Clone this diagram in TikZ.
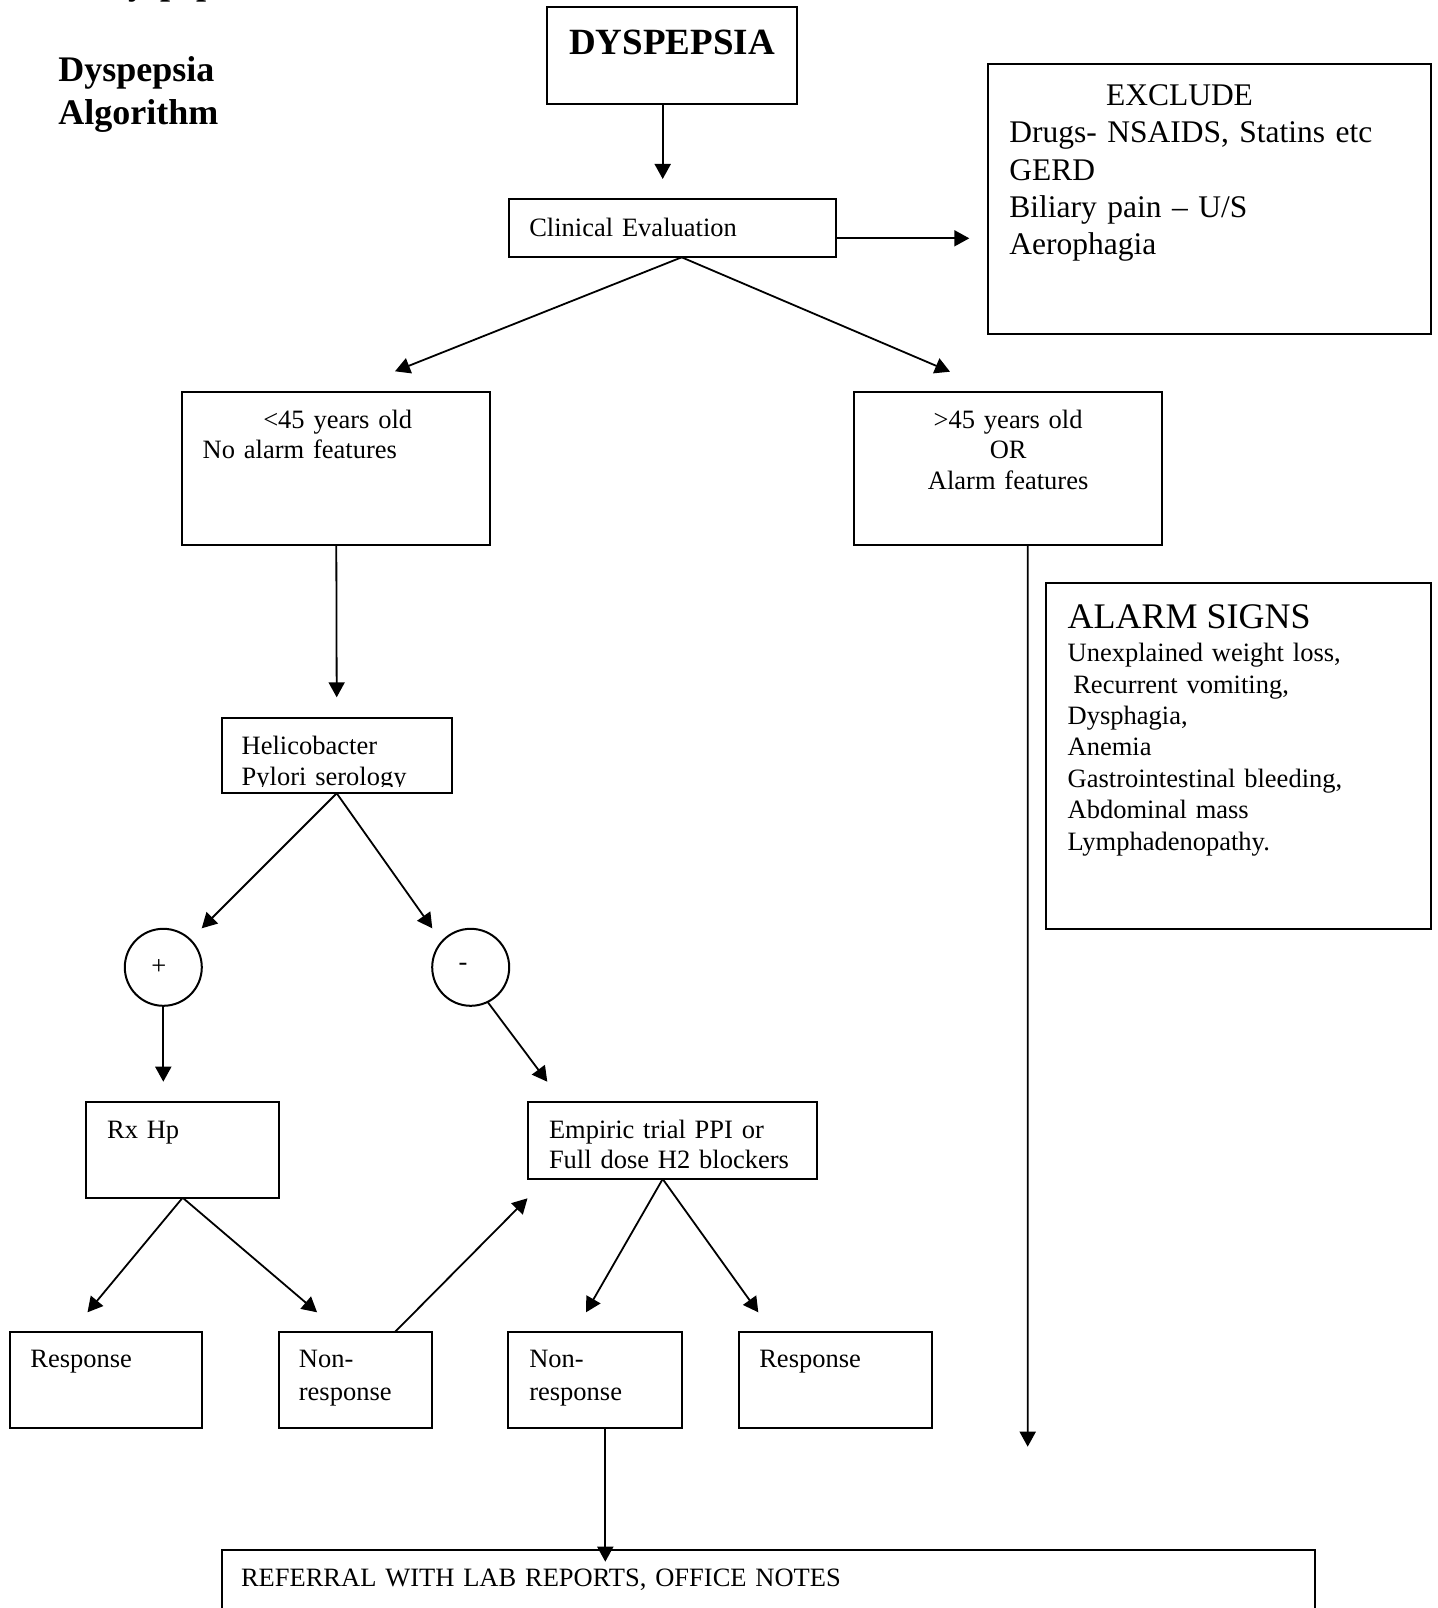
\documentclass[tikz,border=0pt]{standalone}
\usepackage{fontspec}
\setmainfont{Liberation Serif}
\usetikzlibrary{arrows.meta,calc}

\newcommand{\txt}{\fontsize{26.5}{30}\selectfont}
\newcommand{\bigtxt}{\fontsize{31.5}{37.3}\selectfont}
\newcommand{\headtxt}{\fontsize{36}{43.3}\selectfont\bfseries}

\tikzset{
	box/.style={draw, line width=2pt, anchor=north west, inner ysep=0pt, outer sep=0pt, align=left, font=\txt},
	arr/.style={-{Triangle[length=15pt,width=16pt]}, line width=1.8pt},
	sign/.style={draw, circle, line width=2pt, minimum size=77pt, inner sep=0pt, outer sep=0pt, font=\txt}
}

\begin{document}
\begin{tikzpicture}[x=1pt,y=-1pt]
			%%%%% START %%%%%
			
			\fill[white] (0,0) rectangle (1437,1608);
			\useasboundingbox (0,0) rectangle (1437,1608);
			
			\node[anchor=base west, inner sep=0pt, font=\headtxt] (head) at (102,-5) {Dyspepsia};
			\node[box, draw=none, text width=300pt, inner xsep=0pt, text height=41.7pt, text depth=50pt, font=\headtxt] (title) at (58.3,40) {Dyspepsia\\Algorithm};
			
			\node[box, align=center, text width=250.6pt, inner xsep=0pt, text height=47pt, text depth=49.4pt, font=\fontsize{37}{44}\selectfont\bfseries] (dys) at (546.7,7.3) {DYSPEPSIA};
			\node[box, text width=285.8pt, inner xsep=20.6pt, text height=36.7pt, text depth=21.3pt] (clin) at (508.7,199.3) {Clinical Evaluation};
			\node[box, text width=400.7pt, inner xsep=21pt, text height=41.4pt, text depth=228.6pt, font=\bigtxt] (excl) at (988.3,64.3) {\hspace*{96.7pt}EXCLUDE\\Drugs- NSAIDS, Statins etc\\GERD\\Biliary pain -- U/S\\Aerophagia};
			
			\node[box, text width=267.2pt, inner xsep=20.4pt, text height=36.6pt, text depth=116.7pt] (young) at (182.3,391.7) {\hspace*{60.6pt}<45 years old\\No alarm features};
			\node[box, align=center, text width=308.3pt, inner xsep=0pt, text height=36.6pt, text depth=116.7pt, font=\fontsize{26.5}{30.5}\selectfont] (old) at (854,391.7) {>45 years old\\OR\\Alarm features};
			
			\node[box, text width=341.6pt, inner xsep=21.7pt, text height=45pt, text depth=300.7pt, font=\fontsize{26.5}{31.4}\selectfont] (alarm) at (1046,583.3) {{\fontsize{36}{40}\selectfont ALARM SIGNS}\\[2pt]Unexplained weight loss,\\\hspace*{5.6pt}Recurrent vomiting,\\Dysphagia,\\Anemia\\Gastrointestinal bleeding,\\Abdominal mass\\Lymphadenopathy.};
			
			% serology box cuts its last line
			\begin{scope}
				\clip (219,716) rectangle (455,786);
				\node[box, draw=none, text width=190pt, inner xsep=20pt, text height=36pt, text depth=39pt, font=\fontsize{26.5}{30.7}\selectfont] (heli) at (221.7,718.3) {Helicobacter\\Pylori serology};
			\end{scope}
			\draw[line width=2pt] (heli.north west) rectangle (heli.south east);
			
			\node[sign] (pos) at (163.3,967.3) {\makebox[24pt][l]{+}};
			\node[sign] (neg) at (470.7,967.3) {\makebox[24pt][l]{-}};
			
			\node[box, text width=151.1pt, inner xsep=20.7pt, text height=36.6pt, text depth=59.4pt] (rx) at (86.4,1101.7) {Rx Hp};
			\node[box, text width=246.4pt, inner xsep=21.3pt, text height=36.6pt, text depth=40.7pt] (emp) at (527.7,1101.7) {Empiric trial PPI or\\Full dose H2 blockers};
			
			\node[box, text width=150.6pt, inner xsep=20.8pt, text height=35pt, text depth=61pt] (resp1) at (9.6,1332.3) {Response};
			\node[box, text width=112.9pt, inner xsep=20.3pt, text height=35pt, text depth=61pt, font=\fontsize{26.5}{32.7}\selectfont] (non1) at (278.6,1332.3) {Non-\\response};
			\node[box, text width=132pt, inner xsep=21pt, text height=35pt, text depth=61pt, font=\fontsize{26.5}{32.7}\selectfont] (non2) at (508.3,1332.3) {Non-\\response};
			\node[box, text width=152.1pt, inner xsep=20.3pt, text height=35pt, text depth=61pt] (resp2) at (739,1332.3) {Response};
			
			\node[box, text width=1054.6pt, inner xsep=19.4pt, text height=36pt, text depth=80pt] (ref) at (221.6,1550) {REFERRAL WITH LAB REPORTS, OFFICE NOTES};
			
			% arrow tips
			\coordinate (in-clin) at (662.7,179);
			\coordinate (in-excl) at (969.3,238.3);
			\coordinate (in-young) at (395,371.3);
			\coordinate (in-old) at (950,371.7);
			\coordinate (in-heli) at (336.7,697.3);
			\coordinate (end-old) at (1027.7,1446.7);
			\coordinate (in-pos) at (201.7,928.3);
			\coordinate (in-neg) at (432.3,928.3);
			\coordinate (in-rx) at (163.3,1081.7);
			\coordinate (in-emp) at (547.3,1081.7);
			\coordinate (in-resp1) at (87.5,1312.3);
			\coordinate (in-non1) at (317.1,1312.3);
			\coordinate (back-emp) at (527.5,1198.3);
			\coordinate (in-non2) at (586,1312.3);
			\coordinate (in-resp2) at (758.3,1312.3);
			\coordinate (in-ref) at (605.3,1561.7);
			
			\draw[arr] ([xshift=-9.3pt]dys.south) -- (in-clin);
			\draw[arr] ([yshift=-10pt]clin.east) -- (in-excl);
			\draw[arr] ([xshift=9.5pt]clin.south) -- (in-young);
			\draw[arr] ([xshift=9.5pt]clin.south) -- (in-old);
			
			\draw[arr] (young.south) -- (in-heli);
			\draw[arr] ([xshift=19.5pt]old.south) -- (end-old);
			
			\draw[arr] (heli.south) -- (in-pos);
			\draw[arr] (heli.south) -- (in-neg);
			\draw[arr] (pos.south) -- (in-rx);
			\draw[arr] (neg.-64) -- (in-emp);
			
			\draw[arr] (rx.south) -- (in-resp1);
			\draw[arr] (rx.south) -- (in-non1);
			\draw[arr] ([xshift=39.3pt]non1.north) -- (back-emp);
			\draw[arr] ([xshift=-9.5pt]emp.south) -- (in-non2);
			\draw[arr] ([xshift=-9.5pt]emp.south) -- (in-resp2);
			\draw[arr] ([xshift=10pt]non2.south) -- (in-ref);
			
			%%%%% END %%%%%
\end{tikzpicture}
\end{document}
